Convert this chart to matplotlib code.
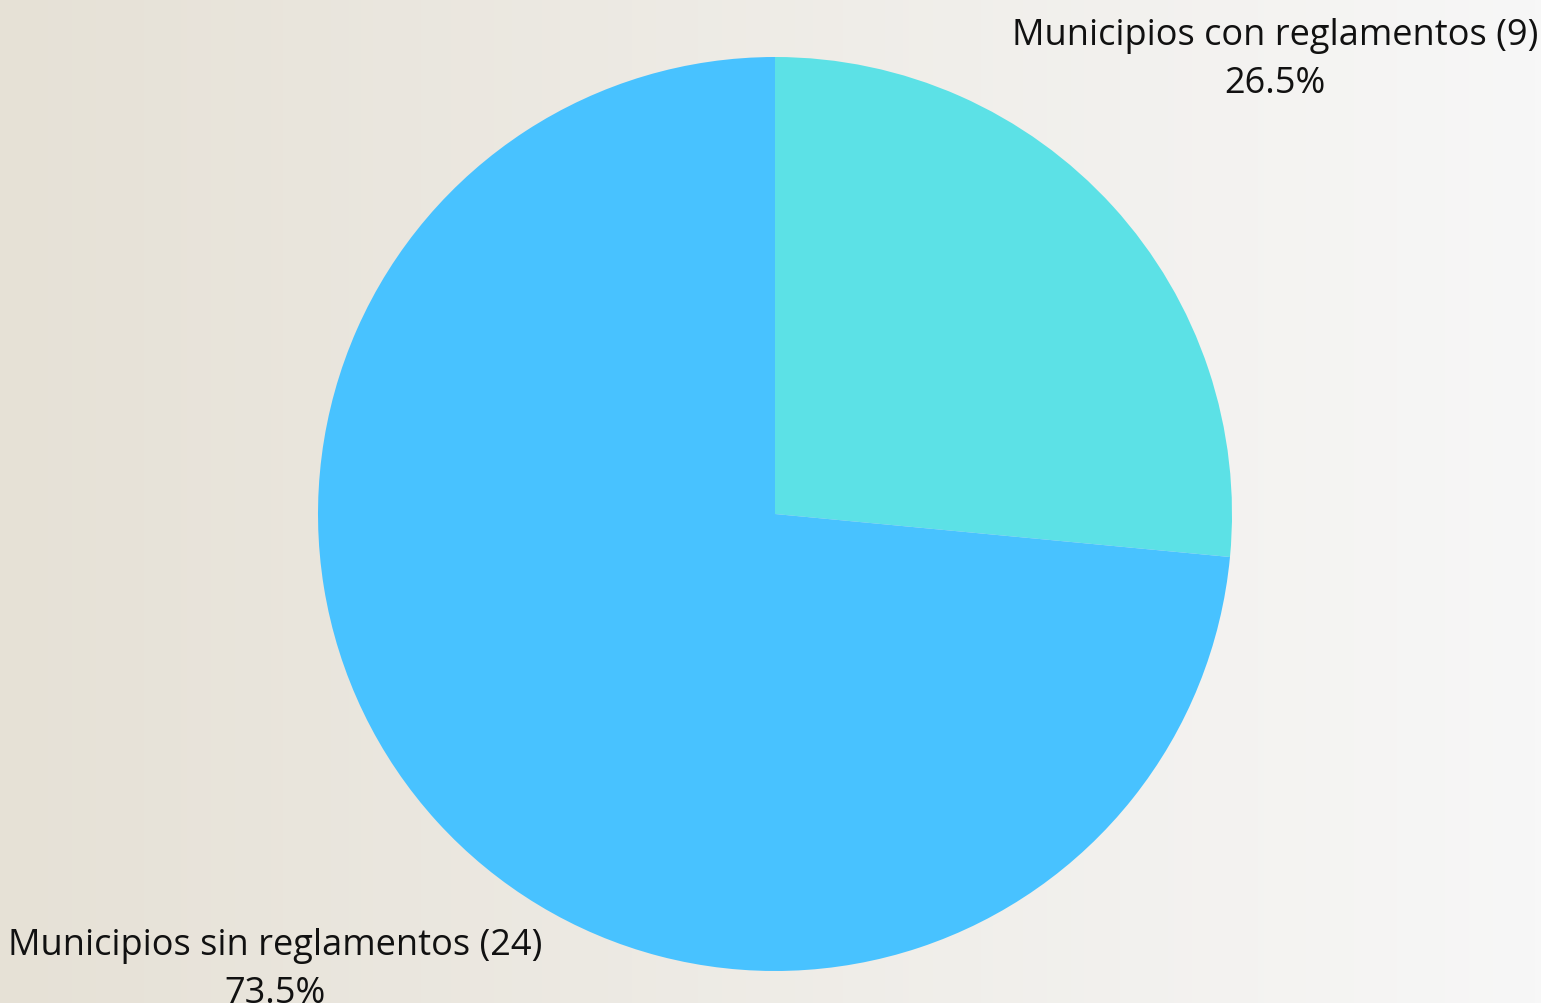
import numpy as np
import matplotlib.pyplot as plt
from matplotlib.colors import LinearSegmentedColormap

labels = ['Municipios con reglamentos (9)', 'Municipios sin reglamentos (24)']
percents = [26.5, 73.5]
colors = ['#5ce1e6', '#48c2ff']

fig = plt.figure(figsize=(15.41, 10.04), dpi=100)
ax = fig.add_axes([0, 0, 1, 1])

# fondo degradado horizontal
bg = LinearSegmentedColormap.from_list('bg', ['#e6e1d6', '#f7f7f7'])
grad = np.linspace(0, 1, 256).reshape(1, -1)
ax.imshow(grad, cmap=bg, extent=[0, 1541, 0, 1004], aspect='auto', zorder=0)

txt = ['%s\n%.1f%%' % (l, p) for l, p in zip(labels, percents)]

wedges, texts = ax.pie(percents, labels=txt, colors=colors, startangle=90,
                       counterclock=False, center=(775, 489), radius=457,
                       labeldistance=1.48, frame=True,
                       textprops={'fontsize': 26, 'family': 'Open Sans',
                                  'color': '#111111', 'linespacing': 1.45})
for t in texts:
    t.set_ha('center')
    t.set_va('center')
    t.set_clip_on(False)
for w in wedges:
    w.set_zorder(2)

ax.set_xlim(0, 1541)
ax.set_ylim(0, 1004)
ax.set_aspect('equal')
ax.axis('off')

plt.savefig('out.png', dpi=100)
